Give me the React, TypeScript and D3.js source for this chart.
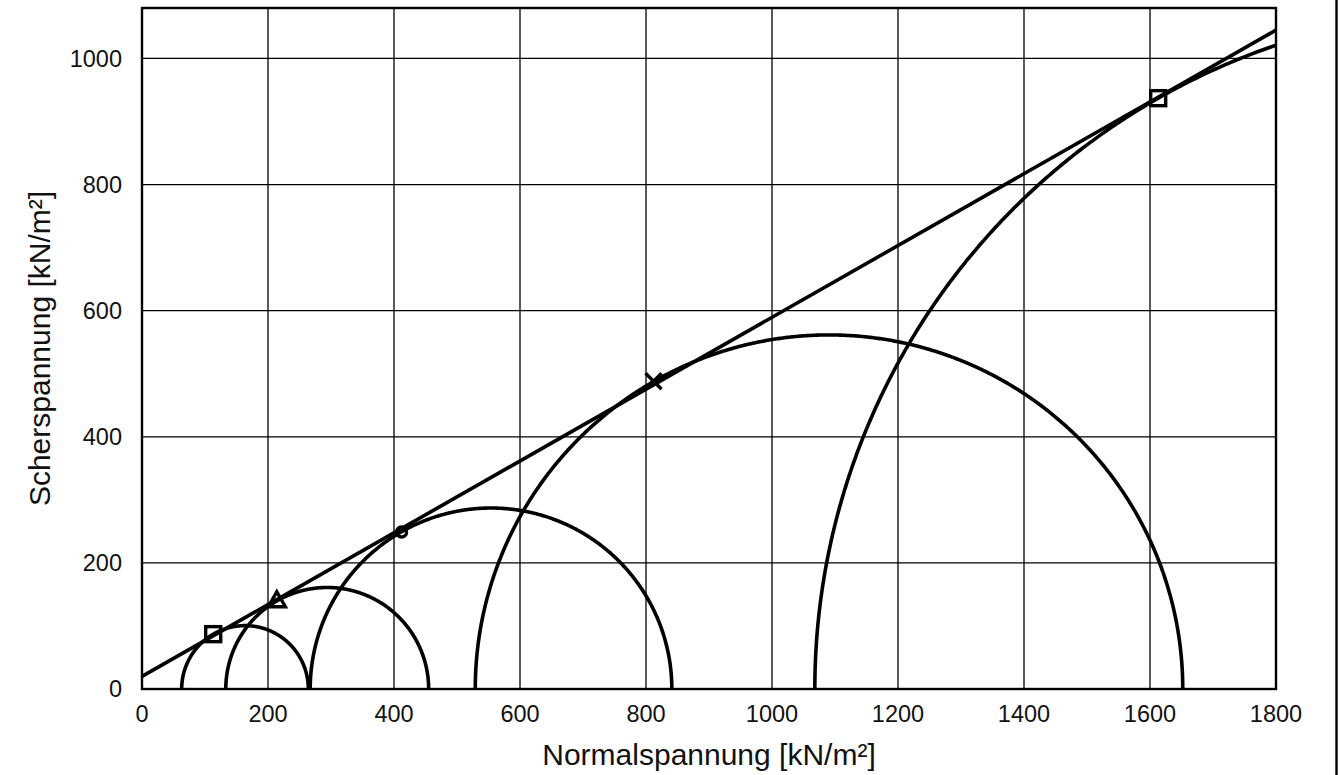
import * as d3 from 'd3';

// Mohr circles: minor / major principal stress [kN/m²]
const sigma3 = [63, 133, 267, 529, 1068];
const sigma1 = [264, 455, 841, 1652, 3224];

// failure line tau = c + sigma * tan(phi)
const cohesion = [20];
const slope = [0.5694];

// tangent points, one symbol each
const pointX = [113, 214, 412, 812, 1613];
const pointY = [87, 140, 249, 488, 937];
const pointSymbol = ['square', 'triangle', 'circle', 'cross', 'square'];

const xTicks = [0, 200, 400, 600, 800, 1000, 1200, 1400, 1600, 1800];
const yTicks = [0, 200, 400, 600, 800, 1000];

const W = 1340;
const H = 775;
const m = { left: 142, right: 1276, top: 8, bottom: 689 };

export default function App() {
  const x = d3.scaleLinear().domain([0, 1800]).range([m.left, m.right]);
  const y = d3.scaleLinear().domain([0, 1080]).range([m.bottom, m.top]);

  const font = 'Liberation Sans, Arial, sans-serif';

  const arcPath = (s3: number, s1: number) => {
    const c = (s3 + s1) / 2;
    const r = (s1 - s3) / 2;
    const pts = d3.range(0, 721).map((i) => {
      const a = (Math.PI * i) / 720;
      return [x(c - r * Math.cos(a)), y(r * Math.sin(a))] as [number, number];
    });
    return d3.line()(pts) || '';
  };

  const linePts: [number, number][] = [
    [x(0), y(cohesion[0])],
    [x(1800), y(cohesion[0] + slope[0] * 1800)],
  ];

  const marker = (sym: string, px: number, py: number, i: number) => {
    const sw = 3.4;
    if (sym === 'square')
      return <rect key={i} x={px - 7.5} y={py - 7.5} width={15} height={15} fill="none" stroke="#000" strokeWidth={sw} />;
    if (sym === 'triangle') {
      const p = d3.path();
      p.moveTo(px, py - 9);
      p.lineTo(px + 8.5, py + 6);
      p.lineTo(px - 8.5, py + 6);
      p.closePath();
      return <path key={i} d={p.toString()} fill="none" stroke="#000" strokeWidth={sw} />;
    }
    if (sym === 'circle')
      return <circle key={i} cx={px} cy={py} r={5} fill="none" stroke="#000" strokeWidth={sw} />;
    return (
      <g key={i} stroke="#000" strokeWidth={sw}>
        <line x1={px - 8} y1={py - 8} x2={px + 8} y2={py + 8} />
        <line x1={px - 8} y1={py + 8} x2={px + 8} y2={py - 8} />
      </g>
    );
  };

  return (
    <div style={{ position: 'absolute', left: 0, top: 0 }}>
      <svg width={W} height={H} style={{ display: 'block', background: '#fff' }} fontFamily={font}>
        <defs>
          <clipPath id="plot">
            <rect x={m.left} y={m.top} width={m.right - m.left} height={m.bottom - m.top} />
          </clipPath>
        </defs>
        <rect x={0} y={0} width={W} height={H} fill="#fff" />
        {/* grid */}
        {xTicks.map((t) => (
          <line key={'gx' + t} x1={x(t)} x2={x(t)} y1={m.top} y2={m.bottom} stroke="#000" strokeWidth={1.3} />
        ))}
        {yTicks.map((t) => (
          <line key={'gy' + t} x1={m.left} x2={m.right} y1={y(t)} y2={y(t)} stroke="#000" strokeWidth={1.3} />
        ))}
        <g clipPath="url(#plot)" fill="none" stroke="#000" strokeWidth={3.6}>
          {sigma3.map((s3, i) => (
            <path key={i} d={arcPath(s3, sigma1[i])} />
          ))}
          <path d={d3.line()(linePts) || ''} />
        </g>
        {pointX.map((px, i) => marker(pointSymbol[i], x(px), y(pointY[i]), i))}
        <rect x={m.left} y={m.top} width={m.right - m.left} height={m.bottom - m.top} fill="none" stroke="#000" strokeWidth={2.4} />
        {/* tick labels */}
        {xTicks.map((t) => (
          <text key={'tx' + t} x={x(t)} y={722} textAnchor="middle" fontSize={23.5} fill="#111">
            {t}
          </text>
        ))}
        {yTicks.map((t) => (
          <text key={'ty' + t} x={122} y={y(t)} dy="0.35em" textAnchor="end" fontSize={23.5} fill="#111">
            {t}
          </text>
        ))}
        <text x={(m.left + m.right) / 2} y={765} textAnchor="middle" fontSize={30} fill="#111">
          Normalspannung [kN/m²]
        </text>
        <text
          transform={`translate(50, ${(m.top + m.bottom) / 2}) rotate(-90)`}
          textAnchor="middle"
          fontSize={30}
          fill="#111"
        >
          Scherspannung [kN/m²]
        </text>
        <line x1={1336.5} x2={1336.5} y1={0} y2={H} stroke="#000" strokeWidth={2.4} />
      </svg>
    </div>
  );
}
